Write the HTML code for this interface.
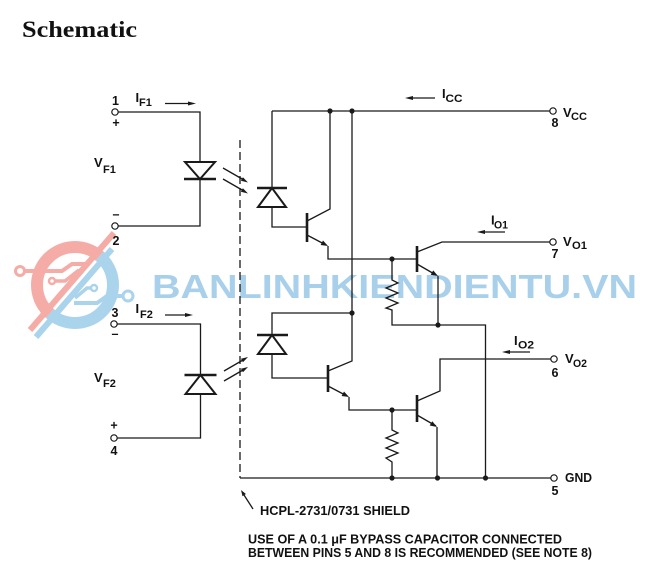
<!DOCTYPE html>
<html><head><meta charset="utf-8"><style>
html,body{margin:0;padding:0;background:#fff}
svg{display:block}
text{font-family:"Liberation Sans",Arial,sans-serif;font-weight:bold;fill:#111}
</style></head><body>
<svg width="652" height="572" viewBox="0 0 652 572" xmlns="http://www.w3.org/2000/svg">
<defs>
<clipPath id="cr"><polygon points="-9,381.5 159,187.5 -9,187.5"/></clipPath>
<clipPath id="cb"><polygon points="-9,381.5 159,187.5 220,187.5 220,400 -9,400"/></clipPath>
</defs>
<rect width="652" height="572" fill="#fff"/>
<text x="22" y="37" style="font-family:'Liberation Serif',serif;font-size:23px;font-weight:bold" textLength="115" lengthAdjust="spacingAndGlyphs">Schematic</text>

<!-- watermark logo -->
<g>
<circle cx="75" cy="285" r="38" fill="none" stroke="#f6aca6" stroke-width="12" clip-path="url(#cr)"/>
<circle cx="75" cy="285" r="38" fill="none" stroke="#aad3ec" stroke-width="12" clip-path="url(#cb)"/>
<line x1="30" y1="330" x2="114" y2="233" stroke="#f6aca6" stroke-width="6"/>
<line x1="36" y1="337" x2="112" y2="249" stroke="#aad3ec" stroke-width="6"/>
<path d="M25,271 H62 L72,264 H86" fill="none" stroke="#f6aca6" stroke-width="4"/>
<circle cx="20" cy="271" r="4.5" fill="#fff" stroke="#f6aca6" stroke-width="3"/>
<path d="M56,281 H65 L79,270" fill="none" stroke="#f6aca6" stroke-width="3.5"/>
<circle cx="52" cy="281" r="3" fill="#fff" stroke="#f6aca6" stroke-width="2.5"/>
<path d="M123,296 H107 L97,303 H74" fill="none" stroke="#aad3ec" stroke-width="4"/>
<circle cx="128" cy="296" r="5" fill="#fff" stroke="#aad3ec" stroke-width="3"/>
<path d="M91,288 H87 L75,298" fill="none" stroke="#aad3ec" stroke-width="3.5"/>
<circle cx="94" cy="288" r="3" fill="#fff" stroke="#aad3ec" stroke-width="2.5"/>
</g>
<text x="152" y="298" style="font-size:33px;font-weight:bold;fill:#a8d0ea" textLength="485" lengthAdjust="spacingAndGlyphs">BANLINHKIENDIENTU.VN</text>

<!-- wires -->
<g fill="none" stroke="#1a1a1a" stroke-width="1.3">
<path d="M118,112 H200 V162"/>
<path d="M200,179 V226 H118"/>
<path d="M117,324 H200.5 V375"/>
<path d="M200.5,394 V438 H117"/>
<path d="M272,111 H550"/>
<path d="M272,111 V188"/>
<path d="M272,207 V227 H307"/>
<path d="M307,221 L330,209 V111"/>
<path d="M307,235 L326,245 M328,246 V259 H417"/>
<path d="M352,111 V361 L328,371"/>
<path d="M417,252 L442,242 H550"/>
<path d="M417,264 L436,275 M438,276 V325"/>
<path d="M392,259 V280 l6,3 l-12,5 l12,5 l-12,5 l12,5 l-12,5 l6,2 V325 H485.5 V478"/>
<path d="M352,313 H272 V335"/>
<path d="M272,354 V378 H328"/>
<path d="M328,386 L347,396 M349,397 V410 H417"/>
<path d="M417,401 L440,391 V359 H551"/>
<path d="M417,415 L436,426 M437,427 V478"/>
<path d="M392,410 V430 l6,3 l-12,5 l12,5 l-12,5 l12,5 l-12,5 l6,4 V478"/>
<path d="M240,478 H551"/>
<path d="M240,140 V478" stroke-dasharray="8 4"/>
<!-- light arrows -->
<path d="M223,168 L243,179.5 M223,179 L243,190.5"/>
<path d="M224,371 L243,360 M224,381 L243,370"/>
<!-- current arrows -->
<path d="M165,103.5 H189 M165,315 H186 M413,98 H435 M485,232 H505 M510,352 H530"/>
<path d="M253,509 L244,495"/>
</g>

<!-- bars -->
<g stroke="#1a1a1a" stroke-width="2.6" fill="none">
<path d="M184,179 H216 M184.5,375 H216.5 M257,188 H287 M257,335 H288"/>
<path d="M307,213 V242 M417,246 V272 M328,365 V392 M417,395 V422"/>
</g>
<!-- diode triangles -->
<g stroke="#1a1a1a" stroke-width="2" fill="#fff" stroke-linejoin="miter">
<polygon points="185,162 215,162 200,179"/>
<polygon points="200.5,375 185.5,394 215.5,394"/>
<polygon points="272,188 258,207 286,207"/>
<polygon points="272,335 258,354 286,354"/>
</g>
<!-- arrowheads -->
<g fill="#1a1a1a">
<polygon points="196,103.5 188,101.5 188,105.5"/>
<polygon points="193,315 185,313 185,317"/>
<polygon points="405,98 413,96 413,100"/>
<polygon points="477,232 485,230 485,234"/>
<polygon points="502,352 510,350 510,354"/>
<polygon points="248,182.5 240.9,180.7 242.9,177.3"/>
<polygon points="248,193.5 240.9,191.7 242.9,188.3"/>
<polygon points="248,357 242.95,362.2 240.95,358.8"/>
<polygon points="248,367 242.95,372.2 240.95,368.8"/>
<polygon points="328,246 320.6,245 323,240.5"/>
<polygon points="438,276 430.7,274.7 433.2,270.4"/>
<polygon points="349,397 341.6,396 344,391.5"/>
<polygon points="437,427 429.7,425.5 432.3,421.3"/>
<polygon points="241,490 245.9,494 242.5,496.2"/>
</g>
<!-- junction dots -->
<g fill="#1a1a1a">
<circle cx="330" cy="111" r="2.6"/><circle cx="352" cy="111" r="2.6"/>
<circle cx="392" cy="259" r="2.6"/><circle cx="352" cy="313" r="2.6"/>
<circle cx="438" cy="325" r="2.6"/><circle cx="392" cy="410" r="2.6"/>
<circle cx="392" cy="478" r="2.6"/><circle cx="437.5" cy="478" r="2.6"/>
<circle cx="485.5" cy="478" r="2.6"/>
</g>
<!-- pins -->
<g fill="#fff" stroke="#1a1a1a" stroke-width="1.2">
<circle cx="115" cy="112" r="3.2"/><circle cx="115" cy="226" r="3.2"/>
<circle cx="114" cy="324" r="3.2"/><circle cx="114" cy="438" r="3.2"/>
<circle cx="553" cy="111" r="3.2"/><circle cx="553" cy="242" r="3.2"/>
<circle cx="554" cy="359" r="3.2"/><circle cx="554" cy="478" r="3.2"/>
</g>

<!-- labels -->
<g style="font-size:12.5px">
<text x="115.5" y="105" text-anchor="middle">1</text>
<text x="116" y="127" text-anchor="middle">+</text>
<text x="116" y="218.5" text-anchor="middle">–</text>
<text x="116" y="245" text-anchor="middle">2</text>
<text x="115" y="317" text-anchor="middle">3</text>
<text x="115" y="338" text-anchor="middle">–</text>
<text x="114" y="429.5" text-anchor="middle">+</text>
<text x="114" y="455" text-anchor="middle">4</text>
<text x="555" y="127" text-anchor="middle">8</text>
<text x="555" y="258" text-anchor="middle">7</text>
<text x="555" y="377" text-anchor="middle">6</text>
<text x="555" y="495" text-anchor="middle">5</text>
<text x="565" y="482" textLength="27" lengthAdjust="spacingAndGlyphs">GND</text>
</g>
<g>
<text x="135.5" y="102" style="font-size:13px">I</text><text x="139" y="106" style="font-size:11px">F1</text>
<text x="94" y="167" style="font-size:13px">V</text><text x="103" y="173" style="font-size:11px">F1</text>
<text x="135.5" y="313" style="font-size:13px">I</text><text x="140" y="318" style="font-size:11px">F2</text>
<text x="94" y="382" style="font-size:13px">V</text><text x="103" y="387" style="font-size:11px">F2</text>
<text x="442" y="98" style="font-size:13px">I</text><text x="445.5" y="102" style="font-size:11px" textLength="17" lengthAdjust="spacingAndGlyphs">CC</text>
<text x="563" y="117" style="font-size:13px">V</text><text x="571" y="120" style="font-size:11px" textLength="16" lengthAdjust="spacingAndGlyphs">CC</text>
<text x="491" y="224.5" style="font-size:13px">I</text><text x="494" y="228.5" style="font-size:11px" textLength="14" lengthAdjust="spacingAndGlyphs">O1</text>
<text x="563" y="246" style="font-size:13px">V</text><text x="572" y="249" style="font-size:11px" textLength="15" lengthAdjust="spacingAndGlyphs">O1</text>
<text x="514" y="345" style="font-size:13px">I</text><text x="518" y="348.5" style="font-size:11px" textLength="16" lengthAdjust="spacingAndGlyphs">O2</text>
<text x="565" y="363" style="font-size:13px">V</text><text x="573" y="367" style="font-size:11px" textLength="14" lengthAdjust="spacingAndGlyphs">O2</text>
</g>
<text x="260" y="515" style="font-size:12.5px" textLength="150" lengthAdjust="spacingAndGlyphs">HCPL-2731/0731 SHIELD</text>
<text x="248" y="543.5" style="font-size:12.5px" textLength="314" lengthAdjust="spacingAndGlyphs">USE OF A 0.1 μF BYPASS CAPACITOR CONNECTED</text>
<text x="248" y="557" style="font-size:12.5px" textLength="344" lengthAdjust="spacingAndGlyphs">BETWEEN PINS 5 AND 8 IS RECOMMENDED (SEE NOTE 8)</text>
</svg>
</body></html>
